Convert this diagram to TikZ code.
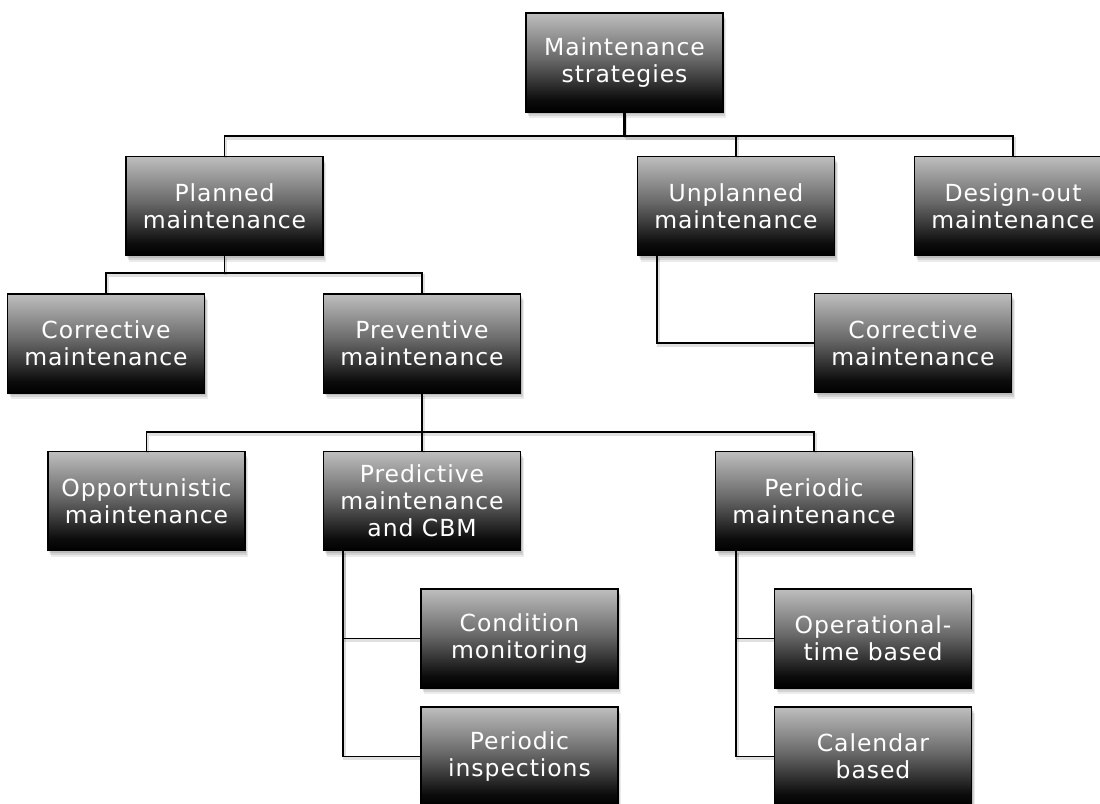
\documentclass[tikz,border=0pt]{standalone}
\usepackage{fontspec}
\newfontfamily\boxfont[LetterSpace=4]{DejaVu Sans}
\usetikzlibrary{shadows}

\definecolor{shTop}{RGB}{190,190,190}
\definecolor{shMid}{RGB}{105,105,105}
\definecolor{shLow}{RGB}{12,12,12}
\pgfdeclareverticalshading{boxshade}{100bp}{%
  color(0bp)=(black); color(25bp)=(black); color(31bp)=(shLow);
  color(52bp)=(shMid); color(75bp)=(shTop); color(100bp)=(shTop)}

\tikzset{
  mbox/.style={draw=black, line width=1.4pt, shading=boxshade,
    minimum width=197pt, minimum height=99pt, inner sep=0pt,
    text=white, align=center,
    font=\boxfont\fontsize{23.5}{27}\selectfont,
    general shadow={fill=black, opacity=.10, shadow xshift=1pt, shadow yshift=-2pt},
    general shadow={fill=black, opacity=.10, shadow xshift=2pt, shadow yshift=-4pt},
    general shadow={fill=black, opacity=.08, shadow xshift=3pt, shadow yshift=-6pt}},
  link/.style={draw=black, line width=1.9pt,
    preaction={draw=black, opacity=.12, line width=3pt, transform canvas={xshift=1pt,yshift=-2pt}}},
  trunk/.style={link, line width=2.8pt},
}

\begin{document}
\begin{tikzpicture}[x=1pt,y=-1pt]
  \useasboundingbox (0,0) rectangle (1100,803);
  \clip (0,0) rectangle (1100,803);
  \fill[white] (0,0) rectangle (1100,803);

  % boxes
  \node[mbox] (root)      at (624.5,62.5) {Maintenance\\strategies};
  \node[mbox] (planned)   at (224.5,206)  {Planned\\maintenance};
  \node[mbox] (unplanned) at (736,206)    {Unplanned\\maintenance};
  \node[mbox] (design)    at (1013,206)   {Design-out\\maintenance};
  \node[mbox] (corr1)     at (106,343.5)  {Corrective\\maintenance};
  \node[mbox] (prev)      at (422,343.5)  {Preventive\\maintenance};
  \node[mbox] (corr2)     at (913,343)    {Corrective\\maintenance};
  \node[mbox] (opp)       at (146.5,501)  {Opportunistic\\maintenance};
  \node[mbox] (pred)      at (422,501)    {Predictive\\maintenance\\and CBM};
  \node[mbox] (peri)      at (814,501)    {Periodic\\maintenance};
  \node[mbox] (cond)      at (519.5,638.5){Condition\\monitoring};
  \node[mbox] (insp)      at (519.5,756.5){Periodic\\inspections};
  \node[mbox] (oper)      at (873,638.5)  {Operational-\\time based};
  \node[mbox] (cal)       at (873,756.5)  {Calendar\\based};

  % junction points of the orthogonal connectors
  \coordinate (bus1) at (624.5,136);
  \coordinate (bus2) at (224.5,273);
  \coordinate (bus3) at (422,432);

  \draw[trunk] (root) -- (bus1);
  \draw[link] (bus1) -| (planned);
  \draw[link] (bus1) -| (unplanned);
  \draw[link] (bus1) -| (design);

  \draw[link] (planned) -- (bus2);
  \draw[link] (bus2) -| (corr1);
  \draw[link] (bus2) -| (prev);

  \draw[trunk] (prev) -- (bus3);
  \draw[link] (bus3) -| (opp);
  \draw[link] (bus3) -| (peri);
  \draw[link] (bus3) -- (pred);

  \draw[link] ([xshift=-79pt]unplanned.south) |- (corr2);
  \draw[link] ([xshift=-79pt]pred.south) |- (cond);
  \draw[link] ([xshift=-79pt]pred.south) |- (insp);
  \draw[link] ([xshift=-78pt]peri.south) |- (oper);
  \draw[link] ([xshift=-78pt]peri.south) |- (cal);
\end{tikzpicture}
\end{document}
